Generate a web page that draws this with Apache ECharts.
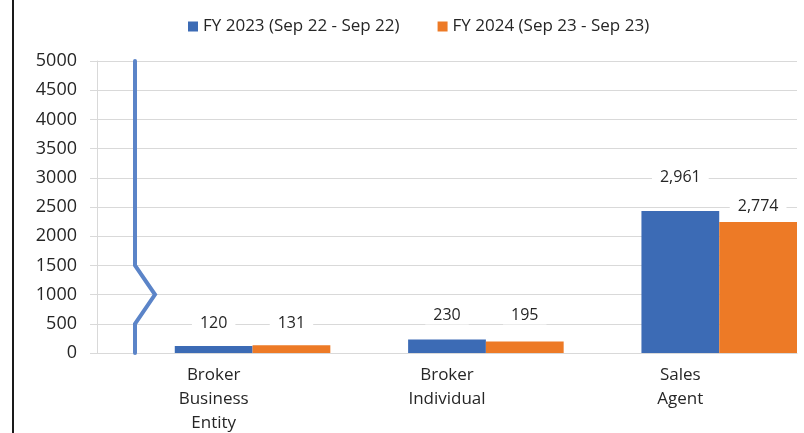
<!DOCTYPE html>
<html>
<head>
<meta charset="utf-8">
<script src="https://cdn.jsdelivr.net/npm/echarts@6/dist/echarts.min.js"></script>
<style>
  html, body { margin: 0; padding: 0; background: #fff; }
  #chart { width: 804px; height: 433px; }
</style>
</head>
<body>
<div id="chart"></div>
<script>
// values
const categories = ['Broker\nBusiness\nEntity', 'Broker\nIndividual', 'Sales\nAgent']
const fy2023 = [120, 230, 2430]
const fy2024 = [131, 195, 2245]
const fy2023Labels = ['120', '230', '2,961']
const fy2024Labels = ['131', '195', '2,774']
const yTicks = [0, 500, 1000, 1500, 2000, 2500, 3000, 3500, 4000, 4500, 5000]
// axis break zigzag, x in px-units along the hidden helper axis
const breakLine = [[38, 5000], [38, 1500], [58, 1000], [38, 500], [38, 0]]

const seriesNames = ['FY 2023 (Sep 22 - Sep 22)', 'FY 2024 (Sep 23 - Sep 23)']
const labelDist23 = [14, 15, 25]
const labelDist24 = [13, 17, 6]
const font = 'Open Sans'

function withLabels(values, texts, dists) {
  return values.map((v, i) => ({
    value: v,
    label: { formatter: texts[i], distance: dists[i] }
  }))
}

let chart = echarts.init(document.getElementById('chart'))

let option = {
  animation: false,
  textStyle: { fontFamily: font },
  legend: {
    data: seriesNames,
    top: 13,
    left: 183,
    icon: 'rect',
    itemWidth: 10,
    itemHeight: 10,
    itemGap: 38,
    textStyle: { fontSize: 17, color: '#262626', fontFamily: font }
  },
  grid: { left: 97, right: 7, top: 61, bottom: 80, outerBoundsMode: 'none', containLabel: false },
  xAxis: [{
    type: 'category',
    data: categories,
    axisLine: { lineStyle: { color: '#d9d9d9' } },
    axisTick: { show: false },
    axisLabel: {
      interval: 0, margin: 10, fontSize: 17, lineHeight: 24,
      color: '#262626', fontFamily: font
    }
  }, {
    type: 'value',
    min: 0,
    max: 700,
    show: false
  }],
  yAxis: {
    type: 'value',
    min: 0,
    max: 5000,
    interval: 500,
    axisLine: { show: true, lineStyle: { color: '#d9d9d9' } },
    axisTick: { show: true, length: 7, lineStyle: { color: '#d9d9d9' } },
    splitLine: { lineStyle: { color: '#d9d9d9' } },
    axisLabel: {
      margin: 20, fontSize: 18, color: '#262626', fontFamily: font,
      formatter: v => yTicks.includes(v) ? String(v) : ''
    }
  },
  graphic: [{
    type: 'line',
    shape: { x1: 13, y1: 0, x2: 13, y2: 433 },
    style: { stroke: '#1a1a1a', lineWidth: 2 }
  }],
  series: [{
    name: 'spacer',
    type: 'bar',
    data: categories.map(() => 0),
    barGap: 0,
    barCategoryGap: 0,
    itemStyle: { color: 'transparent' }
  }, {
    name: seriesNames[0],
    type: 'bar',
    data: withLabels(fy2023, fy2023Labels, labelDist23),
    barGap: 0,
    barCategoryGap: 0,
    itemStyle: { color: '#3c6bb5' },
    label: {
      show: true, position: 'top', fontSize: 16, color: '#262626',
      backgroundColor: '#fff', padding: [1, 8], fontFamily: font
    }
  }, {
    name: seriesNames[1],
    type: 'bar',
    data: withLabels(fy2024, fy2024Labels, labelDist24),
    barGap: 0,
    barCategoryGap: 0,
    itemStyle: { color: '#ed7a26' },
    label: {
      show: true, position: 'top', fontSize: 16, color: '#262626',
      backgroundColor: '#fff', padding: [1, 8], fontFamily: font
    }
  }, {
    name: 'break',
    type: 'line',
    xAxisIndex: 1,
    data: breakLine,
    symbol: 'none',
    z: 5,
    lineStyle: { color: '#5b84c8', width: 4, cap: 'round', join: 'miter' }
  }]
}

chart.setOption(option)
</script>
</body>
</html>
